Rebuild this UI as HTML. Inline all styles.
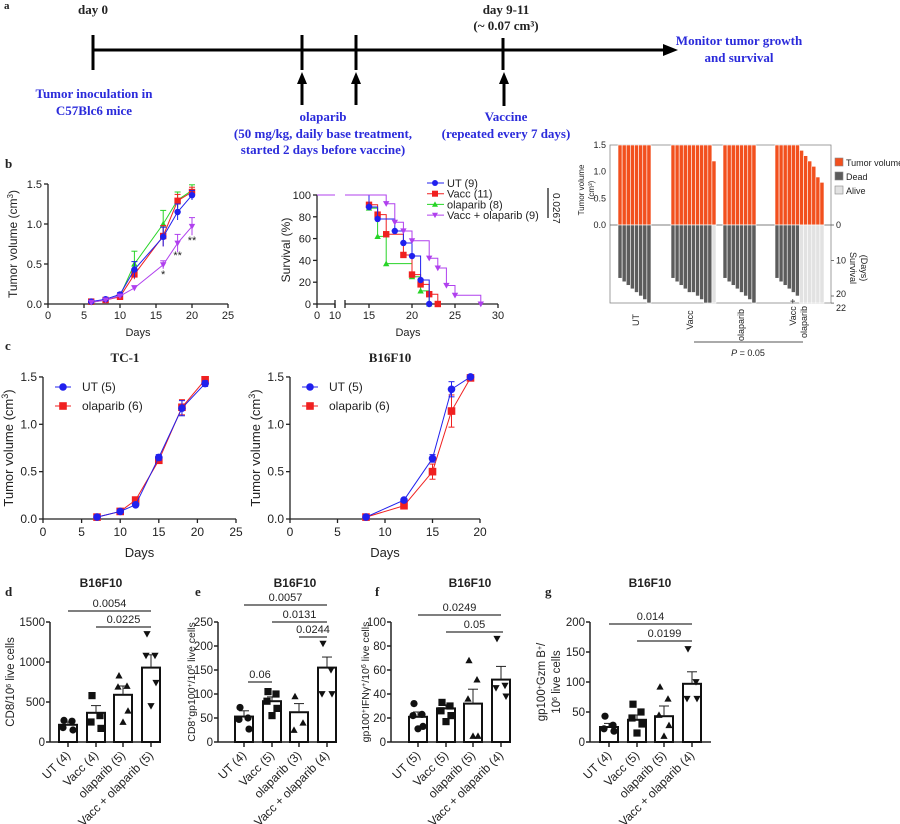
<!DOCTYPE html>
<html><head><meta charset="utf-8"><style>
body{margin:0;background:#fff}
svg{display:block}
text{font-family:"Liberation Sans",sans-serif;fill:#222}
.s{font-family:"Liberation Serif",serif;font-weight:bold}
.bl{fill:#2b2bdb}
</style></head><body>
<svg id="c" width="900" height="824" viewBox="0 0 900 824" xmlns="http://www.w3.org/2000/svg">
<text class="s" x="4" y="9" font-size="11">a</text>
<text class="s" x="78" y="14" font-size="13">day 0</text>
<text class="s" x="506" y="14" font-size="13" text-anchor="middle">day 9-11</text>
<text class="s" x="506" y="30" font-size="13" text-anchor="middle">(~ 0.07 cm³)</text>
<line x1="93" y1="50" x2="665" y2="50" stroke="#000" stroke-width="3"/>
<polygon points="663,44 678,50 663,56" fill="#000"/>
<g stroke="#000" stroke-width="3">
<line x1="93" y1="35" x2="93" y2="70"/><line x1="302" y1="35" x2="302" y2="70"/><line x1="356" y1="35" x2="356" y2="70"/><line x1="503" y1="38" x2="503" y2="70"/>
<line x1="302" y1="82" x2="302" y2="105"/><line x1="356" y1="82" x2="356" y2="105"/><line x1="504" y1="82" x2="504" y2="106"/>
</g>
<g fill="#000"><polygon points="297,84 302,72 307,84"/><polygon points="351,84 356,72 361,84"/><polygon points="499,84 504,72 509,84"/></g>
<g font-size="13" text-anchor="middle">
<text class="s bl" x="94" y="98">Tumor inoculation in</text>
<text class="s bl" x="94" y="115">C57Blc6 mice</text>
<text class="s bl" x="323" y="121">olaparib</text>
<text class="s bl" x="323" y="138">(50 mg/kg, daily base treatment,</text>
<text class="s bl" x="323" y="154">started 2 days before vaccine)</text>
<text class="s bl" x="506" y="121">Vaccine</text>
<text class="s bl" x="506" y="138">(repeated every 7 days)</text>
<text class="s bl" x="739" y="45">Monitor tumor growth</text>
<text class="s bl" x="739" y="62">and survival</text>
</g>
<text class="s" x="5" y="168" font-size="13">b</text>
<text class="s" x="5" y="350" font-size="13">c</text>
<text class="s" x="5" y="596" font-size="13">d</text>
<text class="s" x="195" y="596" font-size="13">e</text>
<text class="s" x="375" y="596" font-size="13">f</text>
<text class="s" x="545" y="596" font-size="13">g</text>
<g id="g"></g>
</svg>
<script>
var G=document.getElementById('g'),h='';
function T(x,y,s,o){o=o||{};h+='<text x="'+x+'" y="'+y+'" font-size="'+(o.fs||11)+'"'+(o.a?' text-anchor="'+o.a+'"':'')+(o.r!=null?' transform="rotate('+o.r+' '+x+' '+y+')"':'')+(o.w?' font-weight="bold"':'')+(o.cl?' class="'+o.cl+'"':'')+'>'+s+'</text>';}
function L(x1,y1,x2,y2,c,w){h+='<line x1="'+x1+'" y1="'+y1+'" x2="'+x2+'" y2="'+y2+'" stroke="'+(c||'#222')+'" stroke-width="'+(w||1.3)+'"/>';}
function R(x,y,w,hh,f,s,sw){h+='<rect x="'+x+'" y="'+y+'" width="'+w+'" height="'+hh+'" fill="'+f+'"'+(s?' stroke="'+s+'" stroke-width="'+(sw||0.6)+'"':'')+'/>';}
function M(t,x,y,c,r){r=r||3.5;
 if(t=='o')h+='<circle cx="'+x+'" cy="'+y+'" r="'+r+'" fill="'+c+'"/>';
 else if(t=='s')R(x-r,y-r,2*r,2*r,c);
 else if(t=='u')h+='<polygon points="'+(x-r)+','+(y+r*0.8)+' '+(x+r)+','+(y+r*0.8)+' '+x+','+(y-r)+'" fill="'+c+'"/>';
 else h+='<polygon points="'+(x-r)+','+(y-r*0.8)+' '+(x+r)+','+(y-r*0.8)+' '+x+','+(y+r)+'" fill="'+c+'"/>';}
function P(pts,c){h+='<polyline points="'+pts.map(p=>p.join(',')).join(' ')+'" fill="none" stroke="'+c+'" stroke-width="1"/>';}
(function(){var fx=d=>48+d*7.2,fy=v=>304-v*80;
 L(48,304,48,184);[[0,'0.0'],[.5,'0.5'],[1,'1.0'],[1.5,'1.5']].forEach(t=>{L(44,fy(t[0]),48,fy(t[0]));T(42,fy(t[0])+4,t[1],{a:'end'});});
 L(48,304,228,304);[0,5,10,15,20,25].forEach(d=>{L(fx(d),304,fx(d),308);T(fx(d),319,d,{a:'middle'});});
 T(fx(12.5),336,'Days',{a:'middle'});
 T(17,244,'Tumor volume (cm<tspan baseline-shift="super" font-size="8">3</tspan>)',{a:'middle',r:-90,fs:12});
 var D=[6,8,10,12,16,18,20];
 var S=[['#27d427','u',[.02,.05,.1,.5,1,1.3,1.42],[0,0,.02,.16,.17,.1,.07]],['#f02020','s',[.03,.05,.09,.37,.85,1.29,1.4],[0,0,.02,.06,.13,.08,.06]],['#2020ee','o',[.03,.06,.12,.43,.84,1.15,1.36],[0,0,.02,.1,.12,.1,.06]],['#b040ee','d',[.02,.05,.1,.2,.49,.76,.97],[0,0,.01,.03,.05,.11,.11]]];
 S.forEach(s=>{P(D.map((d,i)=>[fx(d),fy(s[2][i])]),s[0]);D.forEach((d,i)=>{if(s[3][i]){L(fx(d),fy(s[2][i]-s[3][i]),fx(d),fy(s[2][i]+s[3][i]),s[0],1);L(fx(d)-3,fy(s[2][i]+s[3][i]),fx(d)+3,fy(s[2][i]+s[3][i]),s[0],1);}M(s[1],fx(d),fy(s[2][i]),s[0],3.2);});});
 T(fx(16),278,'*',{a:'middle'});T(fx(18),259,'**',{a:'middle'});T(fx(20),244,'**',{a:'middle'});
})();
(function(){var fx=d=>d<=10?317+d*1.8:369+(d-15)*8.6,fy=v=>304-v*1.09;
 L(317,195,317,304);[0,20,40,60,80,100].forEach(t=>{L(313,fy(t),317,fy(t));T(311,fy(t)+4,t,{a:'end'});});
 L(317,304,335,304);L(345,304,498,304);[0,10,15,20,25,30].forEach(d=>{L(fx(d),304,fx(d),308);});L(345,300,345,308);L(335,300,335,308);
 [0,10,15,20,25,30].forEach(d=>T(fx(d),319,d,{a:'middle'}));
 T(408,336,'Days',{a:'middle'});T(290,250,'Survival (%)',{a:'middle',r:-90,fs:12});
 var C=[['#27d427','u',[[15,88],[16,62],[17,37],[20,25],[21,12],[22,0]]],['#f02020','s',[[15,91],[16,82],[17,64],[19,45],[20,27],[21,18],[22,9],[23,0]]],['#2020ee','o',[[15,89],[16,78],[18,67],[19,56],[20,44],[21,22],[22,0]]],['#b040ee','d',[[17,92],[18,75],[19,67],[20,58],[22,42],[23,33],[24,17],[25,8],[28,0]]]];
 C.forEach(c=>{var prev=100;L(317,fy(100),335,fy(100),c[0],1);var pts=[[345,fy(100)]];c[2].forEach(p=>{pts.push([fx(p[0]),fy(prev)]);pts.push([fx(p[0]),fy(p[1])]);prev=p[1];});P(pts,c[0]);c[2].forEach(p=>M(c[1],fx(p[0]),fy(p[1]),c[0],3.2));});
 var lg=[['#2020ee','o','UT (9)'],['#f02020','s','Vacc (11)'],['#27d427','u','olaparib (8)'],['#b040ee','d','Vacc + olaparib (9)']];
 lg.forEach((l,i)=>{var y=183+i*10.7;L(427,y,444,y,l[0],1);M(l[1],435,y,l[0],3);T(447,y+4,l[2],{fs:11});});
 L(548,188,548,218);T(553,193,'0.0267',{r:90,fs:10});
})();
(function(){R(610,145,221,158,'none','#888',0.8);
 L(610,225,831,225,'#555',0.8);
 [[0,225],[0.5,198.3],[1,171.7],[1.5,145]].forEach(t=>{T(606,t[1]+3,t[0].toFixed(1),{a:'end',fs:9});});
 T(584,190,'Tumor volume',{a:'middle',r:-90,fs:8});T(594,190,'(cm³)',{a:'middle',r:-90,fs:8});
 var fd=d=>225+d*3.55;
 [[0,225],[10,fd(10)],[20,fd(20)],[22,fd(22)]].forEach(t=>{L(831,t[1],834,t[1],'#555',0.8);T(836,t[1]+(t[0]==22?8:t[0]==20?1:3),t[0],{fs:9});});
 T(850,268,'Survival',{a:'middle',r:90,fs:9});T(861,268,'(Days)',{a:'middle',r:90,fs:9});
 var grp=[[618,651,[1.5,1.5,1.5,1.5,1.5,1.5,1.5,1.5],[15,16,17,18,19,20,21,22],0],[671,716,[1.5,1.5,1.5,1.5,1.5,1.5,1.5,1.5,1.5,1.5,1.2],[15,16,17,18,19,19,20,21,22,22,22],1],[723,756,[1.5,1.5,1.5,1.5,1.5,1.5,1.5,1.5],[15,16,17,18,19,20,21,22],0],[775,824,[1.5,1.5,1.5,1.5,1.5,1.5,1.4,1.3,1.2,1.1,.9,.8],[15,16,17,18,19,20,22,22,22,22,22,22],6]];
 grp.forEach(g=>{var n=g[2].length,w=(g[1]-g[0])/n;g[2].forEach((v,i)=>{var x=g[0]+i*w;R(x,225-v*80/1.5,w,v*80/1.5,'#f2501e','#fff');var alive=i>=n-g[4];R(x,225,w,Math.min(78,g[3][i]*3.55),alive?'#e2e2e2':'#5c5c5c','#fff');});});
 R(835,158,8,8,'#f2501e','#888');T(846,166,'Tumor volume',{fs:9});R(835,172,8,8,'#5c5c5c','#888');T(846,180,'Dead',{fs:9});R(835,186,8,8,'#e2e2e2','#888');T(846,194,'Alive',{fs:9});
 T(639,320,'UT',{a:'middle',r:-90,fs:9});T(693,320,'Vacc',{a:'middle',r:-90,fs:9});T(744,325,'olaparib',{a:'middle',r:-90,fs:9});T(796,312,'Vacc +',{a:'middle',r:-90,fs:9});T(807,322,'olaparib',{a:'middle',r:-90,fs:9});
 L(694,342,803,342,'#555',1);T(748,356,'<tspan font-style="italic">P</tspan> = 0.05',{a:'middle',fs:9});
})();
function cpanel(x0,sc,xt,title,tx,U,O,D,ue,oe){var fx=d=>x0+d*sc,fy=v=>519-v*94.7;
 T(tx,362,title,{a:'middle',fs:13,cl:'s'});
 L(x0,519,x0,377);[[0,'0.0'],[.5,'0.5'],[1,'1.0'],[1.5,'1.5']].forEach(t=>{L(x0-4,fy(t[0]),x0,fy(t[0]));T(x0-6,fy(t[0])+4,t[1],{a:'end',fs:12});});
 var xm=xt[xt.length-1];L(x0,519,fx(xm),519);xt.forEach(d=>{L(fx(d),519,fx(d),523);T(fx(d),536,d,{a:'middle',fs:12});});
 T(fx(xm/2),557,'Days',{a:'middle',fs:13});T(x0-30,448,'Tumor volume (cm<tspan baseline-shift="super" font-size="9">3</tspan>)',{a:'middle',r:-90,fs:13});
 [['#f02020','s',O,oe],['#2020ee','o',U,ue]].forEach(s=>{P(D.map((d,i)=>[fx(d),fy(s[2][i])]),s[0]);D.forEach((d,i)=>{var e=s[3][i];if(e){L(fx(d),fy(s[2][i]-e),fx(d),fy(s[2][i]+e),s[0],1);L(fx(d)-3,fy(s[2][i]+e),fx(d)+3,fy(s[2][i]+e),s[0],1);L(fx(d)-3,fy(s[2][i]-e),fx(d)+3,fy(s[2][i]-e),s[0],1);}M(s[1],fx(d),fy(s[2][i]),s[0],3.8);});});
 var lx=x0+12;L(lx,387,lx+16,387,'#2020ee',1);M('o',lx+8,387,'#2020ee',3.8);T(lx+27,391,'UT (5)',{fs:12});
 L(lx,406,lx+16,406,'#f02020',1);M('s',lx+8,406,'#f02020',3.8);T(lx+27,410,'olaparib (6)',{fs:12});}
cpanel(43,7.72,[0,5,10,15,20,25],'TC-1',125,[.02,.08,.15,.65,1.17,1.43],[.02,.08,.2,.62,1.18,1.47],[7,10,12,15,18,21],[0,0,0,.03,.08,.03],[0,0,0,0,.08,0]);
cpanel(290,9.5,[0,5,10,15,20],'B16F10',390,[.02,.2,.64,1.37,1.5],[.02,.14,.5,1.14,1.49],[8,12,15,17,19],[0,0,.04,.08,0],[0,0,.08,.17,0]);
function bp(ax,max,ticks,xs,vals,ses,pts,sig,title,tx,yl,xend,yfs){var fy=v=>742-v/max*120;
 T(tx,587,title,{a:'middle',w:1,fs:12});
 L(ax,742,ax,622,'#222',1.5);ticks.forEach(t=>{L(ax-4,fy(t),ax,fy(t),'#222',1.5);T(ax-5,fy(t)+4,t,{a:'end',fs:11.5});});
 L(ax,742,xend,742,'#222',1.5);
 var mk=['o','s','u','d'];
 xs.forEach((x,i)=>{L(x,742,x,747,'#222',1.5);h+='<rect x="'+(x-9)+'" y="'+fy(vals[i])+'" width="18" height="'+(742-fy(vals[i]))+'" fill="#fff" stroke="#111" stroke-width="2"/>';
  L(x,fy(vals[i]),x,fy(vals[i]+ses[i]),'#222',1);L(x-5,fy(vals[i]+ses[i]),x+5,fy(vals[i]+ses[i]),'#222',1);
  pts[i].forEach((p,j)=>M(mk[i],x+[-4,4,-5,5,0][j%5]*(pts[i].length>2?1:0.5),fy(p),'#111',3.6));});
 var labs=['UT','Vacc','olaparib','Vacc + olaparib'];
 xs.forEach((x,i)=>T(x+3,756,labs[i]+' ('+pts[i].length+')',{a:'end',r:-45,fs:12}));
 sig.forEach(s=>{L(s[0],s[2],s[1],s[2],'#333',1.2);T((s[0]+s[1])/2,s[2]-4,s[3],{a:'middle',fs:11});});
 yl.forEach(l=>T(l[0],682,l[1],{a:'middle',r:-90,fs:yfs||11.5}));}
var sup=s=>'<tspan baseline-shift="super" font-size="7">'+s+'</tspan>';
bp(50,1500,[0,500,1000,1500],[68,96,123,151],[215,365,590,930],[35,90,110,160],[[270,260,180,150],[580,330,250,170],[830,700,690,390,250],[1350,1080,1080,740,450]],[[68,151,611,'0.0054'],[96,151,627,'0.0225']],'B16F10',101,[[14,'CD8/10'+sup('6')+' live cells']],160);
bp(218,250,[0,50,100,150,200,250],[244,272,299,327],[53,85,62,155],[12,9,18,22],[[72,50,47,27],[105,100,85,70,55],[95,40,25],[205,150,100,100]],[[244,327,605,'0.0057'],[272,327,622,'0.0131'],[299,327,637,'0.0244'],[248,272,682,'0.06']],'B16F10',295,[[195,'CD8'+sup('+')+'gp100'+sup('+')+'/10'+sup('6')+' live cells']],337,10.5);
bp(391,100,[0,20,40,60,80,100],[418,446,473,501],[21,28,32,52],[4,3,12,11],[[32,23,22,13,11],[33,30,26,22,17],[68,52,36,5,5],[86,47,45,38]],[[418,501,615,'0.0249'],[446,503,632,'0.05']],'B16F10',470,[[369,'gp100'+sup('+')+'IFNγ'+sup('+')+'/10'+sup('6')+' live cells']],511,10.5);
bp(590,200,[0,50,100,150,200],[609,637,664,692],[25,37,43,97],[6,8,17,20],[[43,28,22,18],[63,50,40,30,15],[92,72,45,28,10],[155,100,72,72]],[[609,692,624,'0.014'],[637,692,641,'0.0199']],'B16F10',650,[[545,'gp100'+sup('+')+'Gzm B'+sup('+')+'/'],[560,'10'+sup('6')+' live cells']],711);
G.innerHTML=h;
</script>
</body></html>
